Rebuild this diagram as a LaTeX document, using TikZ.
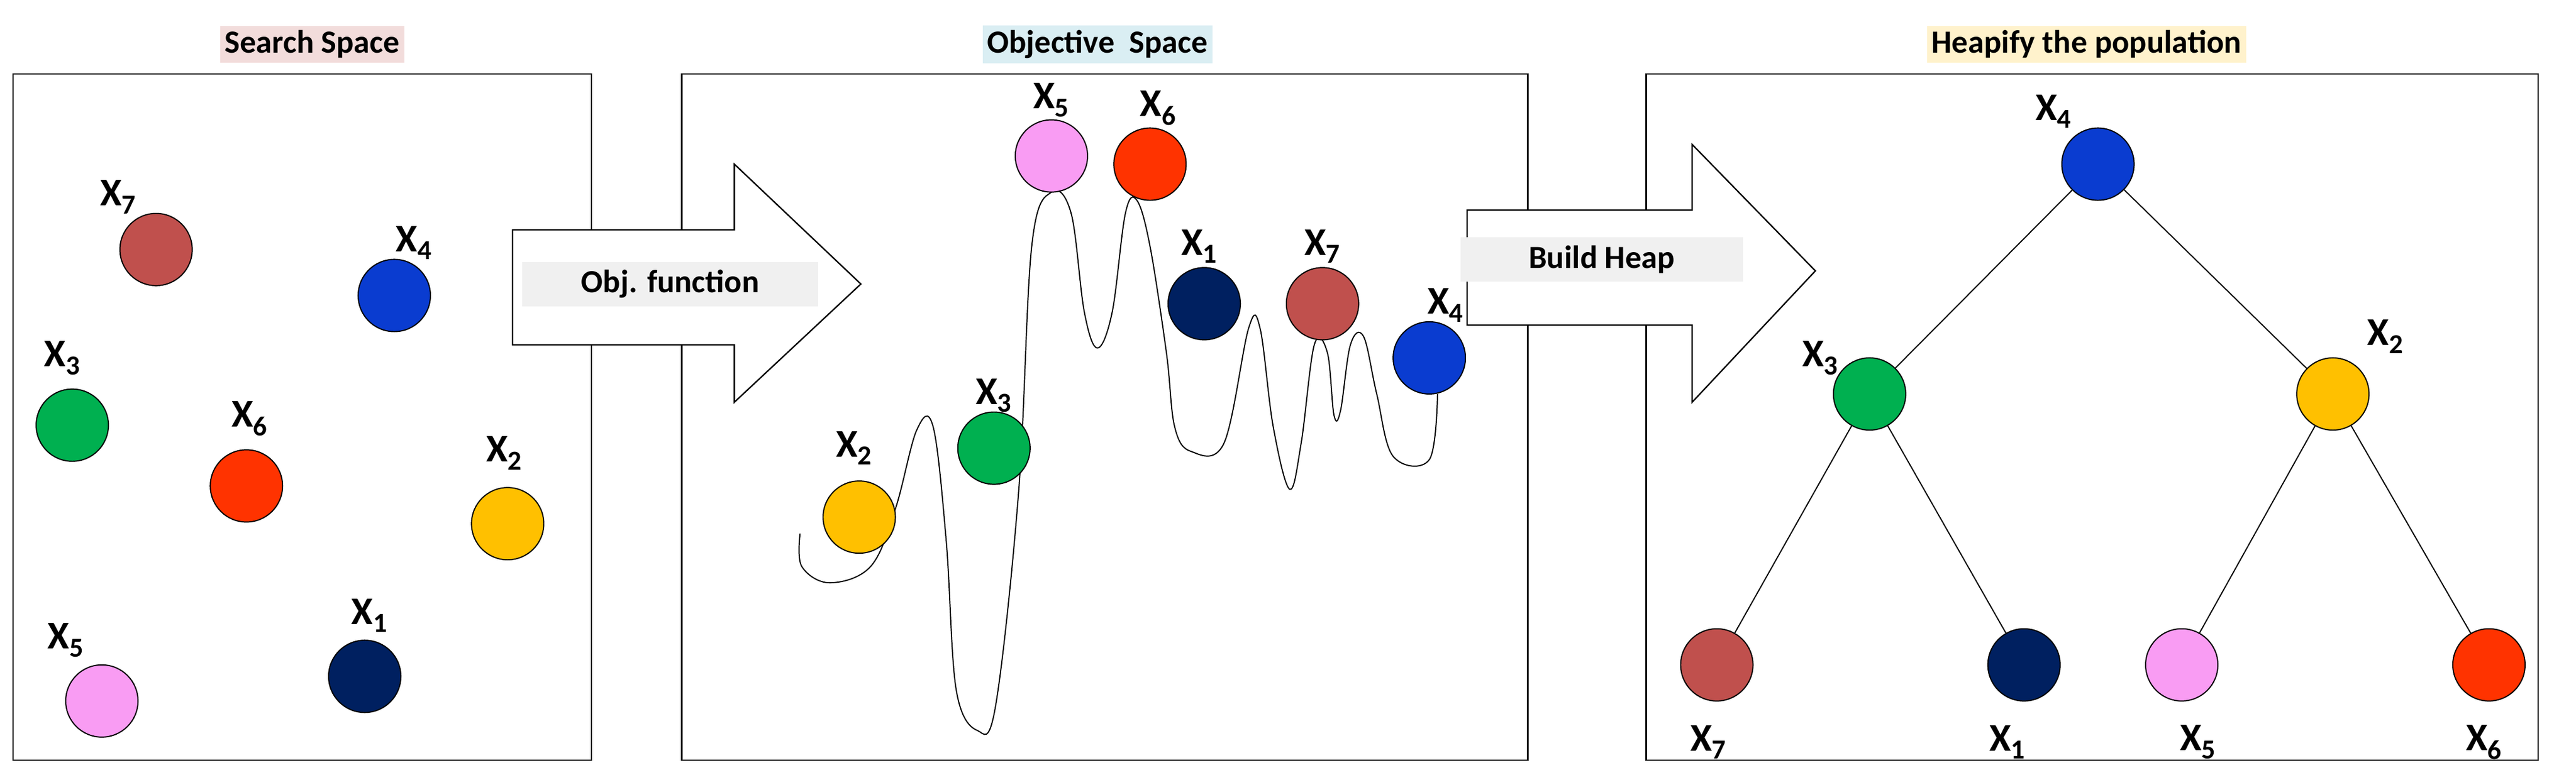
\documentclass[tikz,border=0pt]{standalone}
\usepackage{fontspec}
\setmainfont{Carlito}
\newcommand{\xl}[1]{X\textsubscript{#1}}
\begin{document}
\begin{tikzpicture}[x=0.05cm,y=-0.05cm,
 pt/.style={circle,draw=black,line width=1pt,minimum size=44*0.05cm,inner sep=0},
 lb/.style={font=\fontsize{34}{40}\selectfont\bfseries,inner sep=0},
 ttl/.style={font=\fontsize{28}{34}\selectfont\bfseries,inner sep=4pt},
 bx/.style={draw=black,line width=1.2pt},
 arr/.style={draw=black,line width=1.2pt,fill=white},
 lab/.style={fill=black!6,font=\fontsize{28}{34}\selectfont\bfseries,inner sep=6pt,minimum height=1.35cm}]
\definecolor{cA}{HTML}{C0504D}\definecolor{cB}{HTML}{0A3CD0}\definecolor{cC}{HTML}{00B050}
\definecolor{cD}{HTML}{FF3300}\definecolor{cE}{HTML}{FFC000}\definecolor{cF}{HTML}{F99CF3}
\definecolor{cG}{HTML}{002060}
\useasboundingbox (0,0) rectangle (1568,472);
% boxes
\draw[bx] (8,45) rectangle (360,463);
\draw[bx] (415,45) rectangle (930,463);
\draw[bx] (1002,45) rectangle (1545,463);
\node[ttl,fill={rgb,255:red,242;green,220;blue,219}] (t1) at (190,27) {Search Space};
\node[ttl,fill={rgb,255:red,218;green,238;blue,243}] (t2) at (668,27) {Objective\ \ Space};
\node[ttl,fill={rgb,255:red,255;green,242;blue,204}] (t3) at (1270,27) {Heapify the population};
% arrows
\draw[arr] (312,140)--(447,140)--(447,100)--(524,173)--(447,245)--(447,210)--(312,210)--cycle;
\node[lab,minimum width=9cm] (a1) at (408,173) {Obj. function};
\draw[arr] (893,128)--(1030,128)--(1030,88)--(1105,165)--(1030,245)--(1030,198)--(893,198)--cycle;
\node[lab,minimum width=8.6cm] (a2) at (975,158) {Build Heap};
% box1
\node[pt,fill=cA] (p7) at (95,152) {}; \node[lb] at (72,120) {\xl{7}};
\node[pt,fill=cB] (p4) at (240,180) {}; \node[lb] at (252,148) {\xl{4}};
\node[pt,fill=cC] (p3) at (44,259) {}; \node[lb] at (38,218) {\xl{3}};
\node[pt,fill=cD] (p6) at (150,296) {}; \node[lb] at (152,255) {\xl{6}};
\node[pt,fill=cE] (p2) at (309,319) {}; \node[lb] at (307,276) {\xl{2}};
\node[pt,fill=cF] (p5) at (62,427) {}; \node[lb] at (40,390) {\xl{5}};
\node[pt,fill=cG] (p1) at (222,412) {}; \node[lb] at (225,375) {\xl{1}};
% curve
\draw[line width=1pt] plot[smooth,tension=0.6] coordinates {(487,325) (488,345) (505,355) (530,345) (545,310) (558,262) (568,260) (576,330) (582,420) (595,445) (606,430) (620,300) (628,150) (640,117) (652,130) (660,190) (668,212) (677,190) (685,130) (692,122) (700,150) (710,215) (715,260) (725,275) (745,270) (760,200) (767,200) (775,260) (785,298) (792,270) (800,210) (808,215) (812,253) (816,250) (822,210) (830,205) (838,240) (848,278) (870,280) (875,240)};
\node[pt,fill=cE] (q2) at (523,315) {}; \node[lb] at (520,273) {\xl{2}};
\node[pt,fill=cC] (q3) at (605,273) {}; \node[lb] at (605,241) {\xl{3}};
\node[pt,fill=cF] (q5) at (640,95) {}; \node[lb] at (640,61) {\xl{5}};
\node[pt,fill=cD] (q6) at (700,100) {}; \node[lb] at (705,66) {\xl{6}};
\node[pt,fill=cG] (q1) at (733,185) {}; \node[lb] at (730,150) {\xl{1}};
\node[pt,fill=cA] (q7) at (805,185) {}; \node[lb] at (805,150) {\xl{7}};
\node[pt,fill=cB] (q4) at (870,218) {}; \node[lb] at (880,186) {\xl{4}};
% heap
\node[pt,fill=cB] (h4) at (1277,100) {}; \node[lb] at (1250,68) {\xl{4}};
\node[pt,fill=cC] (h3) at (1138,240) {}; \node[lb] at (1108,218) {\xl{3}};
\node[pt,fill=cE] (h2) at (1420,240) {}; \node[lb] at (1452,205) {\xl{2}};
\node[pt,fill=cA] (h7) at (1045,405) {}; \node[lb] at (1040,452) {\xl{7}};
\node[pt,fill=cG] (h1) at (1232,405) {}; \node[lb] at (1222,452) {\xl{1}};
\node[pt,fill=cF] (h5) at (1328,405) {}; \node[lb] at (1338,452) {\xl{5}};
\node[pt,fill=cD] (h6) at (1515,405) {}; \node[lb] at (1512,452) {\xl{6}};
\draw[line width=1pt] (h4)--(h3) (h4)--(h2) (h3)--(h7) (h3)--(h1) (h2)--(h5) (h2)--(h6);
\end{tikzpicture}
\end{document}
